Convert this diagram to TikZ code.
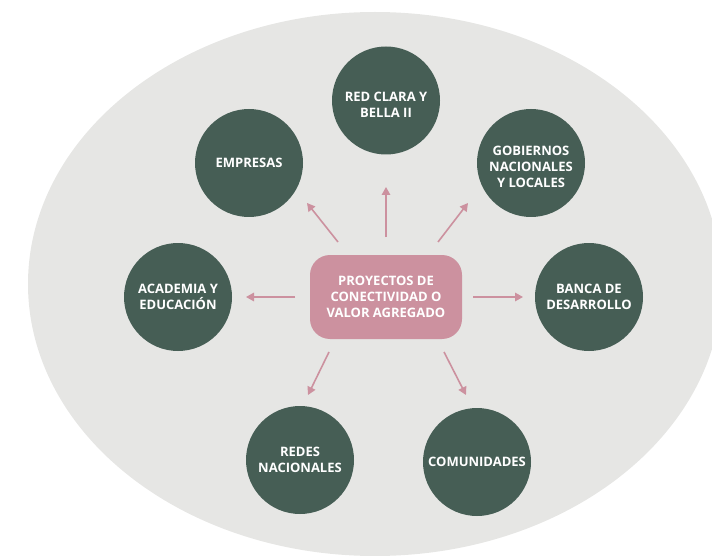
\documentclass[tikz,border=0pt]{standalone}
\usepackage{fontspec}
\setsansfont{Open Sans}
\usetikzlibrary{arrows.meta}
\definecolor{bggray}{HTML}{E6E6E4}
\definecolor{dgreen}{HTML}{465E55}
\definecolor{rose}{HTML}{CC919F}
\begin{document}
\begin{tikzpicture}[x=1pt,y=-1pt,
  lbl/.style={text=white,font=\sffamily\bfseries\fontsize{13}{15.7}\selectfont,align=center},
  circ/.style={lbl,circle,fill=dgreen,minimum size=108pt,inner sep=0pt},
  hub/.style={lbl,rectangle,rounded corners=20pt,fill=rose,minimum width=152pt,minimum height=84pt,inner sep=0pt},
  arr/.style={draw=rose,line width=1.6pt,-{Triangle[length=8pt,width=8.5pt]}}]
\useasboundingbox (0,0) rectangle (712,556);
\begin{scope}
\clip (0,0) rectangle (712,556);
\fill[bggray] (375,284) ellipse [x radius=347, y radius=272];
\end{scope}
\node[hub] (hub) at (386,297) {PROYECTOS DE\\CONECTIVIDAD O\\VALOR AGREGADO};
\node[circ,label={[lbl,yshift=-4pt]center:RED CLARA Y\\BELLA II}] (red) at (386,100.5) {};
\node[circ] (emp) at (249,163) {EMPRESAS};
\node[circ,label={[lbl,yshift=-4pt]center:GOBIERNOS\\NACIONALES\\Y LOCALES}] (gob) at (531,163) {};
\node[circ] (aca) at (178,297) {ACADEMIA Y\\EDUCACIÓN};
\node[circ] (ban) at (589,297) {BANCA DE\\DESARROLLO};
\node[circ] (rds) at (300,460) {REDES\\NACIONALES};
\node[circ] (com) at (477,462) {COMUNIDADES};
% arrow ends
\coordinate (s1) at (386,237); \coordinate (t1) at (386,187);
\coordinate (s2) at (338,242); \coordinate (t2) at (307,203);
\coordinate (s3) at (438,242); \coordinate (t3) at (468,203);
\coordinate (s4) at (473,297); \coordinate (t4) at (523,297);
\coordinate (s5) at (295,297); \coordinate (t5) at (246,297);
\coordinate (s6) at (329,352); \coordinate (t6) at (308,395);
\coordinate (s7) at (444,352); \coordinate (t7) at (466,395);
\draw[arr] (s1) -- (t1);
\draw[arr] (s2) -- (t2);
\draw[arr] (s3) -- (t3);
\draw[arr] (s4) -- (t4);
\draw[arr] (s5) -- (t5);
\draw[arr] (s6) -- (t6);
\draw[arr] (s7) -- (t7);
\end{tikzpicture}
\end{document}
